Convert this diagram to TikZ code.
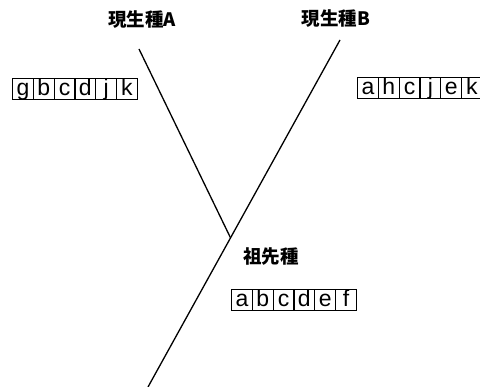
\documentclass[tikz,border=0pt]{standalone}
\usepackage{fontspec}
\setmainfont{Liberation Sans}
\newfontfamily\jp{Noto Sans CJK JP}
\tikzset{
  cell/.style={draw, line width=1.1pt, inner sep=0pt, minimum width=20.8pt, minimum height=21pt,
    text height=17pt, text depth=4pt, font=\fontsize{23}{23}\selectfont, anchor=north west},
  lbl/.style={font=\jp\bfseries\fontsize{18.5}{18.5}\selectfont, inner sep=0pt},
  branch/.style={line width=1.3pt}
}
\begin{document}
\begin{tikzpicture}[x=1pt,y=-1pt]
\useasboundingbox (0,0) rectangle (480,387);
% labels
\node[lbl] (la) at (142,19.5) {現生種A};
\node[lbl] (lb) at (336,18.5) {現生種B};
\node[lbl] (lc) at (271,256.5) {祖先種};
% branches
\coordinate (atop) at (139,49);
\coordinate (btop) at (340,40);
\coordinate (bbot) at (148,387);
\coordinate (junc) at (230.6,238);
\draw[branch] (atop) -- (junc);
\draw[branch] (btop) -- (bbot);
% box A
\node[cell] (a1) at (12,78) {g};
\node[cell] (a2) at (32.8,78) {b};
\node[cell] (a3) at (53.6,78) {c};
\node[cell] (a4) at (74.4,78) {d};
\node[cell] (a5) at (95.2,78) {j};
\node[cell] (a6) at (116,78) {k};
% box B
\node[cell] (b1) at (357,77) {a};
\node[cell] (b2) at (377.8,77) {h};
\node[cell] (b3) at (398.6,77) {c};
\node[cell] (b4) at (419.4,77) {j};
\node[cell] (b5) at (440.2,77) {e};
\node[cell] (b6) at (461,77) {k};
% ancestor box
\node[cell] (c1) at (231,289) {a};
\node[cell] (c2) at (251.8,289) {b};
\node[cell] (c3) at (272.6,289) {c};
\node[cell] (c4) at (293.4,289) {d};
\node[cell] (c5) at (314.2,289) {e};
\node[cell] (c6) at (335,289) {f};
\end{tikzpicture}
\end{document}
